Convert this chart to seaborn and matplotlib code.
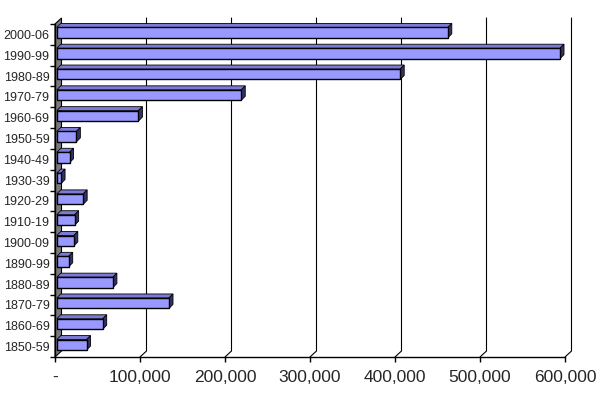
import matplotlib
matplotlib.use("Agg")
import matplotlib.pyplot as plt
from matplotlib.ticker import FuncFormatter
import seaborn as sns
import pandas as pd

# decades, listed top to bottom as in the chart
decades = ['2000-06', '1990-99', '1980-89', '1970-79', '1960-69', '1950-59',
           '1940-49', '1930-39', '1920-29', '1910-19', '1900-09', '1890-99',
           '1880-89', '1870-79', '1860-69', '1850-59']
values = [460000, 592000, 404000, 217000, 96000, 23000,
          15000, 5000, 31000, 21000, 20000, 14000,
          66000, 132000, 54000, 35000]
x_ticks = [0, 100000, 200000, 300000, 400000, 500000, 600000]

df = pd.DataFrame({'decade': decades, 'count': values})

sns.set_style('white')
plt.rcParams['font.family'] = ['Liberation Sans', 'DejaVu Sans']

DPI = 100
WALL_X, WALL_Y = 6.5, 6.0  # depth of the chart walls in px
BAR_D = 4.0                # depth of the bars in px
BAR_SHIFT = 1.8            # bars sit a little behind the front plane

fig = plt.figure(figsize=(6.01, 3.94), dpi=DPI)
ax = fig.add_axes([55 / 601, 1 - 357 / 394, 510 / 601, 333 / 394])

sns.barplot(data=df, x='count', y='decade', orient='h', order=decades,
            color='#9999FF', saturation=1, width=0.5,
            edgecolor='black', linewidth=1.0, ax=ax, zorder=3)
bars = list(ax.patches)

n = len(decades)
ax.set_xlim(0, 600000)
ax.set_ylim(n - 0.5, -0.5)
ax.set_xlabel('')
ax.set_ylabel('')

# axes styling
for s in ['top', 'right']:
    ax.spines[s].set_visible(False)
for s in ['left', 'bottom']:
    ax.spines[s].set_color('black')
    ax.spines[s].set_linewidth(1.0)
    ax.spines[s].set_zorder(5)

ax.set_xticks(x_ticks)
ax.xaxis.set_major_formatter(FuncFormatter(lambda v, p: '-' if v == 0 else f'{int(v):,}'))
ax.tick_params(axis='x', direction='out', length=3.6, width=1, color='black',
               labelsize=12.5, pad=6, bottom=True)
ax.set_yticks(range(n))
ax.set_yticks([i - 0.5 for i in range(n + 1)], minor=True)
ax.tick_params(axis='y', which='major', length=0, labelsize=9, pad=4)
ax.tick_params(axis='y', which='minor', direction='out', length=3.6, width=1,
               color='black', left=True)

# pixel offsets expressed in data units (y axis is inverted, so "up" is negative)
bbox = ax.get_window_extent()
px_x = 600000 / bbox.width
px_y = n / bbox.height
wdx, wdy = WALL_X * px_x, -WALL_Y * px_y
bdx, bdy = BAR_D * px_x, -BAR_D * px_y
y_bot, y_top = n - 0.5, -0.5

# back wall gridlines plus the short diagonals down to the front axis
for v in x_ticks[1:]:
    ax.plot([v, v + wdx, v + wdx], [y_bot, y_bot + wdy, y_top + wdy],
            color='black', lw=0.8, clip_on=False, zorder=1)

# gray side wall at zero
ax.fill([0, 0, wdx, wdx], [y_bot, y_top, y_top + wdy, y_bot + wdy],
        facecolor='#7A7A7A', edgecolor='black', lw=0.8, clip_on=False, zorder=2)

# push bars slightly into the depth, then add their top and side faces
for p in bars:
    p.set_x(p.get_x() + BAR_SHIFT * px_x)
    p.set_y(p.get_y() - BAR_SHIFT * px_y)
    x0, y0 = p.get_x(), p.get_y()
    x1, y1 = x0 + p.get_width(), y0 + p.get_height()
    ax.fill([x0, x1, x1 + bdx, x0 + bdx], [y0, y0, y0 + bdy, y0 + bdy],
            facecolor='#7B7BD6', edgecolor='black', lw=0.6, clip_on=False,
            zorder=2.5)
    ax.fill([x1, x1, x1 + bdx, x1 + bdx], [y1, y0, y0 + bdy, y1 + bdy],
            facecolor='#333366', edgecolor='black', lw=0.6, clip_on=False,
            zorder=2.5)

ax.set_xlim(0, 600000)
ax.set_ylim(n - 0.5, -0.5)

fig.savefig('out.png', dpi=DPI)
